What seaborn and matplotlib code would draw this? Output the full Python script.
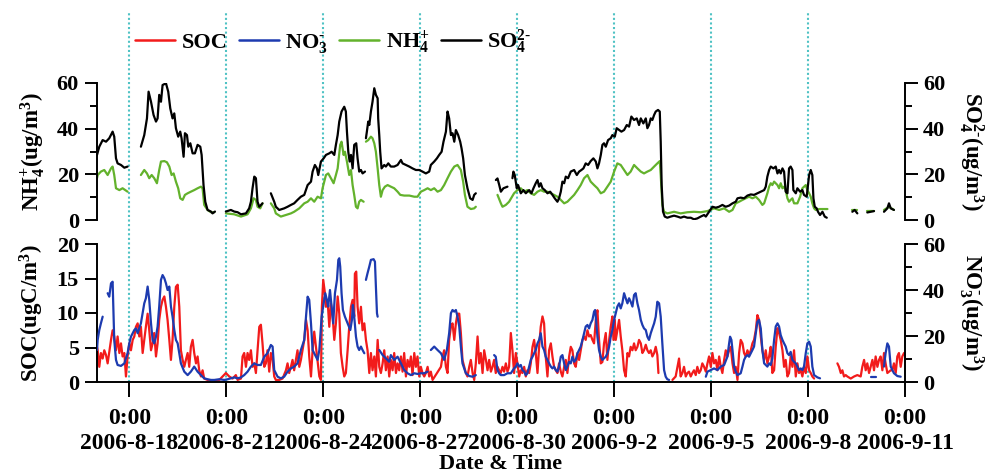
import numpy as np
import pandas as pd
import matplotlib
matplotlib.use("Agg")
import matplotlib.pyplot as plt
from matplotlib.lines import Line2D
from matplotlib.ticker import MultipleLocator
import seaborn as sns

nan = np.nan

# record window and the 0:00 tick dates
start = "2006-08-17 00:00"
end = "2006-09-11 00:00"
tick_dates = ["2006-08-18", "2006-08-21", "2006-08-24", "2006-08-27", "2006-08-30",
              "2006-09-02", "2006-09-05", "2006-09-08", "2006-09-11"]

legend_labels = ["SOC", r"NO$_3^{‐}$", r"NH$_4^{+}$", r"SO$_4^{2‐}$"]
legend_colors = ["#f21b1b", "#1d3bb0", "#63b22c", "#000000"]

# hours since start; nan marks a break in the record
so4_hours = [
    0.0, 1.7, 4.2, 6.7, 9.1, 11.6, 12.8, 14.1, 15.3, 17.8, 20.3, 22.7, nan,
    32.6, 35.1, 37.1, 38.3, 40.1, 42.0, 43.8, 45.0, 46.2, 47.5, 48.7, 51.2, 52.9, 54.4, 56.1, 57.4, 58.6, 60.3,
    61.8, 62.8, 64.3, 65.3, 66.8, 67.8, 69.3, 71.0, 72.7, 74.7, 76.7, 77.7, 79.1, 80.4, 82.1, 84.6, 85.8, 87.6, nan,
    95.7, 99.4, 101.9, 104.4, 106.9, 110.6, 113.0, 114.3, 115.5, 116.8, 118.0, 119.2, 120.5, 122.9, nan,
    129.1, 131.6, 132.8, 135.3, 139.0, 141.5, 144.0, 146.4, 148.9, 151.4,
    153.9, 156.4, 158.9, 160.1, 161.8, 163.3, 164.3, 166.3, 168.3, 170.0,
    172.5, 174.2, 176.2, 177.4, 178.7, 179.9, 181.6, 183.6, 184.8, 185.6,
    186.6, 187.6, 188.6, 189.8, 191.0, 192.5, 193.5, 194.7, 196.0, 197.2, 199.0, nan,
    199.7, 200.4, 201.4, 202.2, 203.4, 204.6, 205.9, 207.1, 208.4, 208.8,
    209.6, 210.3, 211.3, 213.3, 214.5, 216.3, 218.2, 220.7, 223.2, 225.7,
    226.9, 229.4, 231.9, 234.3, 236.8, 239.3, 241.7, 244.2, 246.7, 247.9,
    250.4, 252.4, 254.1, 255.9, 257.3, 259.1, 260.3, 261.5, 262.8, 264.0,
    265.3, 266.5, 268.2, 269.7, 270.7, 271.9, 273.2, 275.1, 277.1, 278.9, 280.1, 281.3, nan,
    296.2, 297.4, 298.7, 299.9, 301.8, 304.8, nan,
    308.5, 309.2, 310.2, 311.7, 312.7, 314.7, 316.7, 318.4, 319.6, 320.9,
    322.6, 324.1, 325.8, 327.1, 328.3, 329.5, 330.8, 332.5, 334.5, 336.5,
    338.2, 339.9, 341.9, 343.1, 344.4, 345.6, 346.9, 348.1, 349.8, 351.8,
    354.3, 356.3, 358.0, 359.7, 361.2, 362.9, 364.7, 366.6, 368.6, 370.4,
    371.6, 372.8, 374.1, 375.3, 376.5, 377.8, 379.5, 381.5, 382.7, 384.5,
    385.9, 387.7, 389.4, 391.4, 393.4, 395.1, 396.8, 398.8, 400.8, 402.5,
    403.8, 405.7, 407.5, 408.7, 409.9, 411.2, 412.4, 413.7, 414.9, 416.6,
    417.9, 418.6, 419.3, 420.3, 421.6, 423.5, 426.0, 428.5, 431.0, 433.4,
    435.9, 438.4, 440.9, 443.3, 445.8, 448.3, 450.8, 452.1, 454.5, 457.0,
    459.5, 461.9, 464.4, 466.9, 469.4, 471.9, 474.3, 475.6, 478.0, 480.5,
    483.0, 485.5, 487.9, 490.4, 492.9, 495.4, 496.6, 497.8, 499.1, 500.3,
    502.3, 504.0, 505.3, 506.5, 507.7, 509.0, 510.2, 511.4, 512.7, 513.9,
    515.1, 516.4, 517.1, 518.9, 520.1, 522.1, 523.8, 525.0, 527.0, 528.8,
    530.0, 531.2, 532.0, 533.0, 534.4, 535.4, 536.9, 538.7, 540.4, 541.9, nan,
    560.9, 562.6, 564.6, nan,
    572.0, 577.0, nan,
    584.4, 586.9, 588.1, 589.4, 591.8,
]
so4_values = [
    28.5, 32.1, 35.0, 34.3, 35.8, 38.7, 36.5, 27.0, 24.8, 24.1, 22.9, 23.4, nan,
    32.1, 37.2, 44.5, 56.2, 51.8, 46.0, 43.1, 44.5, 54.8, 51.8, 59.1, 59.9, 56.2, 48.9, 44.5, 46.7, 40.2, 36.5,
    38.7, 35.8, 27.7, 38.0, 37.2, 32.1, 33.6, 29.2, 29.2, 32.9, 32.1, 28.5, 15.3, 8.0, 4.4, 3.7, 2.9, 3.7, nan,
    3.7, 4.4, 3.7, 3.4, 2.5, 2.9, 5.1, 8.0, 13.9, 19.0, 18.3, 8.0, 5.8, 7.3, nan,
    11.7, 8.0, 5.8, 4.4, 5.1, 5.8, 6.6, 7.3, 8.8, 10.2,
    11.0, 15.3, 16.8, 21.2, 24.1, 22.6, 19.7, 25.6, 27.0, 28.5,
    29.2, 29.9, 28.5, 32.9, 37.2, 43.1, 47.5, 49.6, 47.5, 38.7,
    29.9, 25.6, 28.5, 22.6, 32.9, 33.6, 27.0, 21.2, 21.9, 20.4, 21.2, nan,
    35.8, 38.7, 43.1, 41.6, 47.5, 51.8, 57.7, 54.8, 53.3, 44.5,
    37.2, 29.9, 22.6, 24.1, 23.4, 24.8, 23.4, 23.4, 24.1, 26.3,
    24.8, 24.1, 23.4, 22.6, 21.9, 21.9, 21.2, 20.4, 21.2, 24.1,
    25.6, 27.0, 28.5, 29.9, 34.3, 38.7, 47.5, 44.5, 37.2, 38.0,
    34.3, 39.4, 37.2, 34.3, 31.4, 27.0, 19.7, 13.9, 9.5, 8.8, 11.0, 11.7, nan,
    17.5, 18.2, 15.3, 12.4, 13.9, 14.6, nan,
    18.3, 21.2, 19.7, 13.9, 15.3, 11.7, 13.1, 11.7, 12.4, 13.1,
    11.7, 13.9, 16.1, 17.5, 14.6, 16.1, 13.9, 13.1, 11.7, 12.4,
    11.0, 9.5, 8.0, 9.5, 12.4, 16.8, 16.1, 19.0, 18.3, 21.2,
    21.9, 19.7, 21.2, 21.9, 22.6, 24.8, 24.1, 25.8, 27.0, 25.6,
    22.6, 24.8, 28.5, 32.9, 33.6, 32.1, 35.0, 35.8, 37.2, 36.5,
    40.2, 39.4, 38.7, 39.4, 41.6, 40.9, 45.3, 43.8, 44.5, 41.6,
    44.5, 42.3, 44.5, 40.2, 41.6, 44.5, 43.8, 46.0, 47.5, 48.2,
    47.5, 34.3, 15.3, 3.7, 1.5, 1.0, 1.5, 1.9, 1.5, 1.0,
    1.5, 1.0, 1.0, 0.3, 0.7, 1.5, 2.2, 1.5, 3.6, 5.8,
    5.4, 5.8, 6.6, 5.8, 6.3, 7.3, 8.0, 9.5, 9.8, 9.5,
    10.7, 11.2, 11.0, 11.7, 12.4, 13.1, 14.6, 19.0, 21.9, 23.4,
    22.6, 23.4, 20.4, 21.9, 20.4, 22.6, 21.2, 12.4, 11.7, 22.6,
    23.4, 21.9, 13.1, 11.7, 13.9, 12.4, 13.1, 11.0, 10.2, 19.7,
    21.9, 19.7, 9.5, 5.8, 5.1, 3.6, 2.2, 3.6, 1.5, 1.0, nan,
    3.6, 4.4, 2.9, nan,
    3.3, 3.9, nan,
    3.6, 5.1, 7.3, 5.1, 4.4,
]

nh4_hours = [
    0.0, 0.5, 2.9, 5.4, 7.9, 10.4, 11.6, 12.8, 14.1, 16.6, 19.0, 22.7, nan,
    32.6, 35.1, 37.1, 38.8, 40.6, 42.5, 44.5, 46.2, 47.5, 50.0,
    51.9, 53.7, 55.4, 56.9, 58.6, 60.3, 61.8, 63.6, 65.3, 67.3,
    69.7, 72.2, 74.7, 77.2, 78.4, 79.6, 82.1, 84.6, 87.1, nan,
    95.7, 101.9, 106.9, 111.8, 114.3, 116.3, 118.0, 119.2, 121.2, 122.9, nan,
    129.1, 131.6, 132.8, 136.5, 140.3, 144.0, 146.4, 150.2, 153.9, 156.4,
    158.9, 161.3, 163.8, 166.3, 167.5, 170.0, 171.7, 173.7, 175.7, 177.4,
    178.7, 180.6, 181.6, 183.1, 184.1, 185.6, 187.3, 188.6, 189.8, 191.0,
    192.3, 193.5, 194.7, 196.0, 198.0, nan,
    199.7, 201.4, 203.4, 204.6, 205.9, 207.1, 208.4, 209.6, 210.8, 212.1,
    213.8, 215.8, 218.2, 220.7, 223.2, 225.2, 228.1, 231.9, 235.6, 238.0,
    240.5, 243.0, 245.5, 247.9, 250.4, 252.9, 255.4, 257.8, 260.3, 262.8,
    265.3, 267.7, 270.2, 271.9, 273.2, 275.1, 277.6, 280.1, 281.3, nan,
    297.4, 299.9, 301.1, 303.6, 306.0, 309.7, 312.2, 314.7, 317.2, 319.6,
    322.1, 324.6, 327.1, 329.5, 332.0, 334.5, 337.0, 339.4, 341.9, 344.4,
    346.9, 349.3, 351.8, 354.3, 356.8, 359.2, 361.7, 364.2, 366.6, 369.1,
    371.6, 374.1, 376.5, 379.0, 381.5, 384.0, 386.4, 388.9, 391.4, 393.9,
    396.3, 398.8, 401.3, 403.8, 406.2, 408.7, 411.2, 413.7, 416.1, 417.9,
    418.6, 419.8, 421.1, 423.5, 428.5, 433.4, 438.4, 443.3, 448.3, 453.3,
    458.2, 462.0, 465.7, 469.4, 471.9, 474.3, 476.8, 479.3, 481.7, 484.2,
    486.7, 489.2, 491.6, 494.1, 495.4, 496.6, 497.8, 499.1, 500.3, 501.5,
    502.8, 505.3, 506.5, 507.7, 509.0, 510.2, 511.4, 512.7, 513.9, 515.1,
    516.4, 517.6, 520.1, 522.1, 523.8, 526.3, 527.5, 528.8, 530.0, 531.2,
    532.5, 533.7, 536.2, 538.7, 542.4, nan,
    560.9, 564.6, nan,
    572.0, 577.0, nan,
    584.4, 588.1, 591.8,
]
nh4_values = [
    18.3, 19.7, 21.2, 21.9, 19.7, 22.6, 23.4, 19.7, 13.9, 13.1, 13.9, 12.4, nan,
    19.7, 21.9, 20.4, 18.3, 19.7, 18.3, 16.1, 21.9, 25.6, 25.8,
    25.3, 23.4, 19.7, 20.4, 16.8, 13.9, 9.5, 8.8, 11.0, 11.7,
    12.4, 13.1, 13.9, 14.6, 13.9, 6.6, 4.4, 3.4, 3.4, nan,
    2.9, 2.5, 1.5, 2.5, 5.1, 9.5, 8.8, 5.8, 5.1, 7.3, nan,
    7.3, 5.1, 2.9, 1.5, 2.2, 2.9, 3.6, 5.1, 7.3, 8.0,
    9.5, 8.0, 10.2, 9.5, 13.9, 19.7, 20.4, 18.3, 16.1, 19.7,
    22.6, 32.9, 34.3, 28.5, 29.9, 25.6, 19.7, 21.9, 15.3, 11.0,
    5.8, 5.1, 8.0, 8.8, 8.0, nan,
    34.3, 35.0, 36.5, 35.8, 33.6, 29.9, 22.6, 15.3, 10.2, 13.1,
    14.6, 15.3, 14.6, 13.9, 12.4, 11.0, 10.7, 10.7, 10.2, 10.2,
    12.4, 13.1, 13.9, 13.1, 13.9, 12.4, 13.1, 15.3, 18.3, 21.2,
    23.4, 24.1, 21.9, 16.8, 11.0, 5.8, 4.8, 5.1, 5.8, nan,
    11.0, 7.3, 5.8, 6.6, 8.0, 11.7, 13.1, 13.9, 12.4, 13.1,
    11.7, 11.0, 12.4, 13.1, 12.4, 12.4, 11.7, 11.0, 10.2, 8.8,
    7.3, 8.0, 9.5, 11.0, 13.1, 15.3, 18.3, 19.7, 16.8, 15.3,
    13.9, 11.7, 12.4, 14.6, 16.8, 21.2, 24.8, 24.1, 21.9, 19.7,
    21.2, 24.1, 22.6, 21.2, 20.4, 21.2, 21.9, 23.4, 24.8, 25.8,
    19.7, 6.6, 3.6, 2.9, 3.6, 2.9, 3.4, 3.6, 3.4, 3.9,
    5.1, 4.4, 5.1, 3.6, 4.4, 7.3, 8.0, 8.8, 9.5, 10.2,
    9.5, 10.2, 8.8, 6.6, 7.3, 9.5, 11.7, 14.6, 16.1, 15.3,
    16.8, 15.3, 13.9, 16.1, 13.9, 14.6, 13.1, 9.5, 8.0, 8.8,
    9.5, 7.3, 7.3, 10.2, 13.9, 15.3, 13.1, 11.7, 10.2, 7.3,
    5.1, 4.4, 4.8, 4.8, 4.8, nan,
    4.4, 4.4, nan,
    3.9, 3.9, nan,
    4.4, 5.8, 4.4,
]

no3_hours = [
    0.0, 0.5, 1.7, 2.9, 4.2, nan,
    7.9, 9.1, 10.4, 11.6, 12.8, 14.1, 15.3, 17.8, 20.3, 22.7,
    24.0, 25.2, 27.7, 28.9, 30.2, 32.6, 35.1, 36.3, 37.6, 38.8,
    40.1, 41.3, 42.5, 43.8, 45.0, 46.2, 47.5, 48.7, 50.0, 51.2,
    52.4, 53.7, 54.9, 56.1, 57.4, 58.6, 59.9, 61.1, 62.3, 64.8,
    67.3, 69.7, 72.2, 74.7, 77.2, 79.6, 82.1, 84.6, 87.1, 90.8,
    94.5, 97.0, 99.4, 101.9, 104.4, 106.9, 109.3, 111.8, 114.3, 116.8,
    119.2, 121.7, 124.2, 126.6, 129.1, 130.4, 131.6, 134.1, 136.5, 139.0,
    141.5, 144.0, 146.4, 148.9, 151.4, 153.9, 155.2, 156.4, 157.6, 158.9,
    160.1, 161.3, 162.6, 163.8, 165.1, 165.8, 166.8, 168.3, 169.5, 170.7,
    171.7, 173.0, 174.2, 175.4, 176.7, 178.2, 179.2, 179.9, 180.6, 181.6,
    182.6, 184.1, 186.1, 188.1, 189.3, 190.0, 191.0, 192.3, 193.5, 194.7,
    196.0, 197.2, 198.5, nan,
    199.7, 200.9, 202.2, 203.4, 205.4, 206.4, 207.1, 207.9, 208.4, nan,
    209.6, 212.1, 214.5, 217.0, 218.2, 220.7, 223.2, 225.7, 228.1, 230.6,
    233.1, 235.6, 238.0, 240.5, 243.0, 245.5, nan,
    247.9, 250.4, 252.9, 255.4, 257.8, 259.8, 261.5, 262.8, 264.0, 265.3,
    266.5, 267.7, 269.0, 270.2, 271.4, 273.9, 276.4, 278.9, 281.3, nan,
    294.9, 296.1, 297.4, 298.6, 299.8, 302.3, 304.8, 307.3, 309.7, 311.0,
    312.2, 313.5, 314.7, 315.9, 317.2, 318.4, 319.6, 320.9, 322.1, 323.4,
    324.6, 325.8, 327.1, 328.3, 329.5, 330.8, 332.0, 333.2, 334.5, 335.7,
    337.0, 338.2, 339.4, 340.7, 341.9, 343.1, 344.4, 345.6, 346.9, 348.1,
    349.3, 350.6, 351.8, 353.0, 354.3, 355.5, 356.8, 358.0, 359.2, 360.5,
    361.7, 362.9, 364.2, 365.4, 366.6, 367.9, 369.1, 369.9, 370.6, 371.6,
    372.8, 374.1, 375.3, 376.5, 377.8, 379.0, 380.3, 381.5, 382.7, 384.0,
    385.2, 386.4, 387.7, 388.9, 390.1, 391.4, 392.6, 393.9, 395.1, 396.3,
    397.6, 398.8, 400.0, 401.3, 402.5, 403.8, 405.0, 406.2, 407.5, 408.7,
    409.9, 411.2, 412.4, 413.7, 414.9, 416.1, 417.4, 418.6, 419.8, 421.1,
    422.3, 423.5, 424.8, nan,
    452.1, 453.3, 455.8, 458.2, 460.7, 463.2, 465.7, 468.1, 469.4, 470.1,
    471.1, 471.9, 473.1, 474.3, 475.6, 478.0, 479.3, 480.5, 481.7, 483.0,
    484.2, 485.5, 486.7, 487.9, 489.2, 490.4, 491.6, 492.9, 494.1, 495.4,
    496.6, 497.8, 499.1, 500.3, 501.5, 502.8, 504.0, 505.3, 506.5, 507.7,
    509.0, 510.2, 511.4, 512.7, 513.9, 515.1, 516.4, 517.6, 518.9, 520.1,
    521.3, 522.6, 523.8, 525.0, 526.3, 527.5, 528.8, 530.0, 531.2, 532.5,
    535.0, 536.9, nan,
    574.5, 578.2, nan,
    584.4, 585.6, 586.9, 588.1, 589.4, 590.6, 591.8, 594.3, 596.8,
]
no3_values = [
    13.9, 18.3, 22.6, 25.5, 28.4, nan,
    38.6, 37.1, 42.9, 43.6, 18.3, 9.6, 7.4, 7.0, 8.1, 12.5,
    16.8, 19.7, 22.6, 23.3, 21.2, 25.5, 34.2, 36.4, 41.5, 35.7,
    25.5, 18.3, 16.8, 19.7, 24.1, 32.8, 44.4, 46.5, 45.1, 42.9,
    40.0, 41.5, 32.8, 28.4, 22.6, 18.3, 16.8, 12.5, 8.1, 4.5,
    3.0, 4.5, 6.7, 4.5, 3.0, 1.6, 1.2, 0.9, 0.9, 1.2,
    0.9, 1.2, 1.6, 2.0, 1.6, 2.0, 3.0, 4.5, 6.7, 8.1,
    7.4, 7.4, 11.0, 12.5, 16.1, 15.4, 5.2, 2.3, 1.6, 2.3,
    4.5, 5.9, 6.7, 8.1, 13.9, 18.3, 28.4, 37.1, 35.7, 25.5,
    13.9, 12.5, 11.0, 9.6, 13.9, 19.7, 28.4, 34.2, 38.6, 35.7,
    32.8, 40.0, 32.8, 25.5, 38.6, 44.4, 53.1, 53.8, 50.2, 38.6,
    31.3, 28.4, 25.5, 22.6, 27.0, 33.5, 28.4, 19.7, 15.4, 13.9,
    15.4, 13.9, 12.5, nan,
    44.4, 47.3, 50.2, 53.1, 53.4, 52.3, 41.5, 29.9, 28.4, nan,
    13.9, 11.7, 10.3, 8.8, 11.7, 9.6, 11.0, 8.1, 5.2, 3.8,
    3.0, 3.8, 3.5, 3.8, 3.8, 4.5, nan,
    13.9, 15.4, 13.9, 12.5, 9.6, 13.9, 21.2, 29.9, 31.3, 30.6,
    31.3, 28.4, 24.1, 15.4, 8.1, 3.8, 2.6, 2.3, 3.0, nan,
    11.7, 11.0, 5.2, 3.8, 3.0, 3.0, 3.8, 3.8, 5.9, 6.7,
    8.1, 6.7, 7.4, 5.2, 4.5, 3.0, 3.8, 6.7, 9.6, 11.0,
    12.5, 13.9, 16.8, 18.3, 21.2, 15.4, 13.9, 11.0, 9.6, 8.1,
    6.7, 5.9, 6.7, 5.2, 4.5, 6.7, 11.0, 11.7, 8.1, 5.2,
    6.7, 8.8, 8.1, 11.0, 8.8, 9.6, 12.5, 13.9, 15.4, 18.3,
    21.2, 24.1, 24.8, 23.3, 25.5, 27.0, 30.6, 31.3, 27.0, 19.7,
    13.9, 11.0, 9.6, 10.3, 11.0, 12.5, 15.4, 19.7, 22.6, 27.0,
    29.9, 32.8, 34.2, 32.0, 34.2, 38.6, 36.4, 34.2, 36.4, 34.9,
    32.8, 37.8, 38.6, 34.2, 31.3, 27.0, 24.8, 23.3, 22.6, 19.7,
    18.3, 21.2, 23.3, 25.5, 28.4, 34.9, 34.2, 28.4, 16.8, 5.2,
    2.3, 1.2, 0.9, nan,
    2.3, 4.5, 5.2, 5.9, 5.2, 6.7, 7.4, 11.0, 16.8, 19.7,
    18.3, 13.9, 6.7, 4.5, 3.0, 3.8, 6.7, 9.6, 11.0, 11.7,
    11.0, 12.5, 13.9, 15.4, 21.2, 26.2, 27.0, 23.3, 13.9, 8.1,
    7.4, 6.7, 8.1, 7.4, 10.3, 18.3, 24.1, 25.5, 24.1, 20.4,
    18.3, 16.8, 15.4, 12.5, 11.7, 13.1, 9.6, 8.8, 8.1, 6.7,
    5.2, 5.9, 5.2, 6.7, 12.5, 16.8, 17.5, 15.4, 6.7, 3.0,
    2.0, 1.6, nan,
    2.3, 2.3, nan,
    6.7, 12.5, 16.8, 15.4, 6.7, 5.2, 3.8, 2.6, 2.3,
]

soc_hours = [
    0.0, 0.5, 1.7, 2.9, 4.2, 5.4, 6.7, 7.9, 10.4, 11.6,
    12.8, 14.1, 15.3, 16.6, 17.8, 19.0, 20.3, 21.5, 22.7, 24.0,
    25.2, 26.5, 27.7, 28.9, 30.2, 31.4, 32.6, 33.9, 35.1, 36.3,
    37.6, 38.8, 40.1, 41.3, 42.5, 43.8, 45.0, 46.2, 47.5, 48.7,
    50.0, 51.2, 52.4, 53.7, 54.9, 56.1, 57.4, 58.6, 59.9, 61.1,
    62.3, 63.6, 64.8, 66.0, 67.3, 68.5, 69.7, 71.0, 72.2, 73.5,
    74.7, 75.9, 77.2, 78.4, 79.6, 82.1, 87.1, 90.8, 93.2, 95.7,
    98.2, 100.7, 103.1, 104.4, 106.9, 108.1, 109.3, 110.6, 111.8, 113.0,
    114.3, 115.5, 116.8, 118.0, 119.2, 120.5, 121.7, 122.9, 124.2, 125.4,
    126.6, 127.9, 129.1, 130.4, 131.6, 132.8, 135.3, 137.8, 140.3, 141.5,
    142.7, 144.0, 145.2, 146.4, 147.7, 148.9, 150.2, 151.4, 152.6, 153.9,
    155.2, 156.4, 157.6, 158.9, 160.1, 161.3, 162.6, 163.8, 165.1, 166.3,
    167.0, 168.0, 169.3, 170.0, 171.2, 172.5, 173.7, 175.0, 176.2, 177.4,
    178.7, 179.9, 181.1, 182.4, 183.6, 184.8, 186.1, 187.3, 188.6, 189.8,
    191.0, 191.5, 192.5, 193.5, 194.7, 196.0, 197.2, 198.5, 199.7, 200.9,
    202.2, 203.4, 204.6, 205.9, 207.1, 208.4, 209.6, 210.8, 212.1, 213.3,
    214.5, 215.8, 217.0, 218.2, 219.5, 220.7, 222.0, 223.2, 224.4, 225.7,
    226.9, 228.1, 229.4, 230.6, 231.9, 233.1, 234.3, 235.6, 236.8, 238.0,
    239.3, 240.5, 241.7, 243.0, 244.2, 245.5, 246.7, 247.9, 249.2,
    255.4, 256.6, 257.8, 259.1, 260.3, 261.5, 262.8, 264.0, 265.3, 266.5,
    267.7, 269.0, 270.2, 271.4, 272.7, 273.9, 275.1, 276.4, 277.6, 278.9,
    280.1, 281.3, 282.6, 283.8, 285.0, 286.3, 287.5, 288.8, 290.0, 291.2,
    292.5, 293.7, 294.9, 296.1, 297.4, 298.6, 299.8, 301.1, 302.3, 303.6,
    304.8, 306.0, 307.3, 308.5, 309.7, 311.0, 312.2, 313.5, 314.7, 315.9,
    317.2, 318.4, 319.6, 320.9, 322.1, 323.4, 324.6, 325.8, 327.1, 328.3,
    329.5, 330.8, 332.0, 333.2, 334.5, 335.7, 337.0, 338.2, 339.4, 340.7,
    341.9, 343.1, 344.4, 345.6, 346.9, 348.1, 349.3, 350.6, 351.8, 353.0,
    354.3, 355.5, 356.8, 358.0, 359.2, 360.5, 361.7, 362.9, 364.2, 365.4,
    366.6, 367.9, 369.1, 370.4, 371.6, 372.8, 374.1, 375.3, 376.5, 377.8,
    379.0, 380.3, 381.5, 382.7, 383.5, 384.5, 385.2, 386.4, 387.7, 388.9,
    390.1, 391.4, 392.6, 393.9, 395.1, 396.3, 397.6, 398.8, 400.0, 401.3,
    402.5, 403.8, 405.0, 406.2, 407.5, 408.7, 409.9, 411.2, 412.4, 413.7,
    414.9, 416.1, 416.9, nan,
    427.3, 429.7, 432.2, 433.4, 434.7, 435.9, 437.2, 438.4, 439.6, 440.9,
    442.1, 443.3, 444.6, 445.8, 447.1, 448.3, 449.5, 450.8, 452.1, 453.3,
    454.5, 455.8, 457.0, 458.2, 459.5, 460.7, 462.0, 463.2, 464.4, 465.7,
    466.9, 468.1, 469.4, 470.6, 471.9, 473.1, 474.3, 475.6, 476.8, 478.0,
    479.3, 480.5, 481.7, 483.0, 484.2, 485.5, 486.7, 487.9, 489.2, 490.4,
    491.6, 492.9, 494.1, 495.4, 496.6, 497.8, 499.1, 500.3, 501.5, 502.8,
    504.0, 505.3, 506.5, 507.7, 509.0, 510.2, 511.4, 512.7, 513.9, 515.1,
    516.4, 517.6, 518.9, 520.1, 521.3, 522.6, 523.8, 525.0, 526.3, 527.5,
    528.8, 530.0, 531.2, 532.5, nan,
    549.8, 551.0, 552.3, 553.5, 554.7, 556.0, 557.2, 559.7, 562.2, 564.6,
    567.1, 568.3, 569.6, 570.8, 572.0, 573.3, 574.5, 575.8, 577.0, 578.2,
    579.5, 580.7, 581.9, 583.2, 584.4, 585.6, 586.9, 589.4, 590.6, 591.8,
    593.1, 594.3, 595.5, 596.8, 598.0, 599.3,
]
soc_values = [
    5.1, 4.6, 2.2, 4.2, 3.4, 4.6, 3.9, 2.7, 6.1, 7.5,
    6.6, 4.6, 6.6, 4.2, 5.6, 3.7, 4.2, 0.8, 3.7, 5.6,
    4.6, 6.1, 6.6, 8.0, 8.5, 6.6, 8.0, 4.2, 6.1, 8.0,
    9.9, 7.5, 4.6, 5.6, 7.1, 3.7, 5.6, 9.0, 10.9, 11.9,
    12.4, 10.9, 9.0, 6.1, 3.2, 6.1, 10.9, 13.8, 14.1, 10.9,
    4.6, 3.2, 2.2, 3.2, 4.2, 2.2, 5.1, 6.1, 4.2, 2.7,
    3.7, 1.7, 0.8, 1.7, 0.5, 0.3, 0.2, 0.3, 0.8, 1.3,
    0.8, 0.5, 1.0, 0.3, 0.5, 3.7, 4.2, 2.2, 4.2, 3.2,
    4.6, 2.2, 2.7, 1.3, 4.6, 8.0, 8.3, 5.6, 2.2, 2.7,
    4.6, 1.5, 4.2, 3.2, 0.8, 0.3, 0.3, 0.5, 1.7, 2.7,
    1.3, 2.2, 3.2, 1.7, 3.2, 4.6, 2.2, 3.2, 4.6, 6.1,
    9.0, 7.5, 3.7, 0.8, 4.6, 7.3, 5.1, 3.2, 0.8, 0.3,
    10.9, 14.8, 12.8, 10.9, 11.9, 8.0, 11.4, 9.5, 6.1, 8.5,
    12.4, 9.9, 4.2, 2.2, 0.8, 1.3, 4.6, 8.0, 10.9, 11.9,
    9.5, 15.7, 16.0, 10.9, 8.5, 10.9, 7.5, 8.5, 6.1, 4.6,
    1.3, 4.2, 1.7, 3.7, 0.8, 6.1, 2.2, 1.3, 2.7, 4.6,
    1.7, 3.7, 0.8, 3.2, 1.7, 4.2, 1.3, 2.7, 1.7, 3.7,
    1.5, 4.2, 0.8, 3.2, 2.2, 3.7, 1.0, 4.2, 2.2, 3.7,
    0.8, 2.2, 1.3, 0.8, 1.3, 2.2, 0.8, 1.5, 0.3,
    2.2, 3.7, 4.6, 2.2, 1.3, 6.1, 8.0, 8.5, 6.1, 8.5,
    9.9, 9.9, 7.1, 3.2, 2.2, 1.3, 0.8, 2.2, 3.2, 1.3,
    0.3, 2.7, 6.6, 2.7, 4.2, 1.3, 4.6, 3.2, 1.7, 3.2,
    1.5, 2.2, 3.2, 1.3, 2.2, 1.7, 1.3, 2.2, 1.5, 2.7,
    1.5, 2.2, 7.1, 4.6, 1.3, 4.2, 2.7, 0.8, 1.7, 1.3,
    2.2, 0.8, 1.7, 1.3, 2.7, 5.1, 6.1, 4.2, 1.3, 5.1,
    8.0, 9.5, 8.5, 3.7, 0.8, 4.6, 5.6, 3.7, 2.2, 1.7,
    1.3, 2.7, 1.5, 0.8, 2.2, 3.2, 1.3, 3.7, 5.1, 4.6,
    2.7, 2.2, 4.2, 3.2, 4.6, 6.1, 6.6, 6.1, 7.5, 6.6,
    6.8, 6.1, 5.6, 9.0, 10.4, 6.1, 2.7, 2.9, 5.6, 7.1,
    3.2, 6.1, 8.0, 9.5, 6.1, 9.0, 6.1, 7.5, 9.0, 6.6,
    4.6, 1.7, 0.8, 4.2, 3.7, 5.1, 4.6, 5.6, 4.6, 5.1,
    6.1, 5.6, 4.2, 4.6, 5.4, 4.6, 4.2, 4.6, 3.7, 4.2,
    5.1, 3.9, 1.3, nan,
    0.3, 0.8, 3.4, 0.8, 1.3, 2.2, 0.8, 1.3, 1.5, 0.8,
    1.3, 1.7, 1.0, 2.2, 1.3, 1.7, 2.7, 2.2, 1.5, 2.7,
    3.7, 2.2, 4.2, 2.7, 3.2, 1.7, 3.7, 2.2, 1.3, 3.2,
    4.6, 3.7, 4.6, 5.1, 2.7, 1.3, 2.2, 0.3, 4.2, 6.1,
    5.6, 4.2, 3.7, 4.6, 3.9, 4.6, 5.6, 6.1, 7.5, 9.7,
    9.0, 6.6, 4.6, 3.2, 4.6, 2.7, 3.7, 5.1, 1.3, 1.7,
    5.1, 7.8, 7.1, 6.1, 4.6, 2.2, 3.2, 0.8, 1.3, 3.7,
    2.2, 4.6, 0.8, 2.7, 1.3, 1.7, 0.8, 2.2, 1.3, 3.7,
    1.7, 1.3, 0.8, 0.5, nan,
    2.7, 2.2, 1.3, 1.7, 0.8, 1.0, 0.8, 0.5, 0.8, 1.0,
    0.8, 2.2, 3.2, 1.7, 2.7, 1.3, 2.2, 3.2, 1.7, 3.7,
    2.2, 3.2, 3.7, 1.7, 4.2, 2.7, 1.3, 1.7, 1.7, 2.7,
    1.3, 3.7, 4.2, 2.2, 3.7, 4.2,
]

# ---------------------------------------------------------------- style
sns.set_style("ticks")
plt.rcParams.update({
    "font.family": ["Liberation Serif", "DejaVu Serif"],
    "font.weight": "bold",
    "font.size": 16,
    "axes.labelweight": "bold",
    "axes.labelsize": 16.5,
    "axes.labelcolor": "black",
    "text.color": "black",
    "mathtext.fontset": "custom",
    "mathtext.rm": "Liberation Serif:bold",
    "mathtext.it": "Liberation Serif:bold",
    "mathtext.bf": "Liberation Serif:bold",
    "mathtext.default": "rm",
    "axes.linewidth": 1.4,
    "axes.edgecolor": "black",
    "xtick.color": "black",
    "ytick.color": "black",
    "xtick.labelsize": 17,
    "ytick.labelsize": 16,
})

t0 = pd.Timestamp(start)
t1 = pd.Timestamp(end)
ticks = pd.to_datetime(tick_dates)


def to_frame(hours, values):
    h = np.asarray(hours, dtype=float)
    v = np.asarray(values, dtype=float)
    seg = np.cumsum(np.isnan(h))
    ok = ~np.isnan(h)
    return pd.DataFrame({
        "time": t0 + pd.to_timedelta(h[ok], unit="h"),
        "value": v[ok],
        "seg": seg[ok],
    })


W, H = 988, 476
fig = plt.figure(figsize=(W / 100, H / 100), dpi=100)


def box(x0, y_top, x1, y_bot):
    return [x0 / W, 1 - y_bot / H, (x1 - x0) / W, (y_bot - y_top) / H]


# day guides running through both panels and the legend strip
ax_bg = fig.add_axes(box(97, 12, 905, 382))
ax_bg.set_xlim(t0, t1)
ax_bg.set_ylim(0, 1)
for d in ticks[:-1]:
    ax_bg.axvline(d, color="#4fc2c4", lw=1.5, ls=(0, (1, 1.2)))
ax_bg.axis("off")

ax_top = fig.add_axes(box(97, 83, 905, 220))
ax_bot = fig.add_axes(box(97, 244, 905, 382))
for ax in (ax_top, ax_bot):
    ax.set_facecolor("none")
ax_top2 = ax_top.twinx()
ax_bot2 = ax_bot.twinx()

soc_c, no3_c, nh4_c, so4_c = legend_colors
line_kw = dict(x="time", y="value", units="seg", estimator=None, lw=1.6, legend=False)
sns.lineplot(data=to_frame(nh4_hours, nh4_values), color=nh4_c, ax=ax_top, **line_kw)
sns.lineplot(data=to_frame(so4_hours, so4_values), color=so4_c, ax=ax_top2, **line_kw)
sns.lineplot(data=to_frame(soc_hours, soc_values), color=soc_c, ax=ax_bot, **line_kw)
sns.lineplot(data=to_frame(no3_hours, no3_values), color=no3_c, ax=ax_bot2, **line_kw)

for ax in (ax_top, ax_top2, ax_bot, ax_bot2):
    ax.set_xlim(t0, t1)
    ax.set_xlabel("")
    ax.set_ylabel("")

# top panel: NH4+ on the left, SO4 2- on the right
for ax in (ax_top, ax_top2):
    ax.set_ylim(0, 60)
    ax.yaxis.set_major_locator(MultipleLocator(20))
    ax.yaxis.set_minor_locator(MultipleLocator(10))
    ax.tick_params(axis="x", which="both", bottom=False, top=False, labelbottom=False)
    ax.spines["top"].set_visible(False)
    ax.spines["bottom"].set_visible(False)
ax_top.spines["right"].set_visible(False)
ax_top2.spines["left"].set_visible(False)

# bottom panel: SOC on the left, NO3- on the right
ax_bot.set_ylim(0, 20)
ax_bot.yaxis.set_major_locator(MultipleLocator(5))
ax_bot2.set_ylim(0, 60)
ax_bot2.yaxis.set_major_locator(MultipleLocator(20))
ax_bot2.yaxis.set_minor_locator(MultipleLocator(10))
for ax in (ax_bot, ax_bot2):
    ax.spines["top"].set_visible(False)
ax_bot.spines["right"].set_visible(False)
ax_bot2.spines["left"].set_visible(False)
ax_bot2.spines["bottom"].set_visible(False)

for ax in (ax_top, ax_bot):
    ax.tick_params(axis="y", which="major", left=True, right=False, direction="out",
                   length=9, width=1.4, pad=4)
    ax.tick_params(axis="y", which="minor", left=True, right=False, direction="out",
                   length=5, width=1.4)
for ax in (ax_top2, ax_bot2):
    ax.tick_params(axis="y", which="major", left=False, right=True, labelright=True,
                   direction="out", length=9, width=1.4, pad=4)
    ax.tick_params(axis="y", which="minor", left=False, right=True, direction="out",
                   length=5, width=1.4)

ax_bot.set_xticks(ticks)
ax_bot.set_xticklabels([f"0:00\n{d.year}-{d.month}-{d.day}" for d in ticks])
ax_bot.xaxis.set_minor_locator(plt.NullLocator())
ax_bot.tick_params(axis="x", which="major", bottom=True, direction="out", length=11,
                   width=1.4, pad=8)
for lab in ax_bot.get_xticklabels():
    lab.set_linespacing(1.25)

ax_top.set_ylabel(r"NH$_4^{+}$(ug/m$^3$)")
ax_bot.set_ylabel(r"SOC(ugC/m$^3$)")
ax_top2.set_ylabel(r"SO$_4^{2‐}$(ug/m$^3$)", rotation=270)
ax_bot2.set_ylabel(r"NO$_3^{‐}$(ug/m$^3$)", rotation=270)
for ax, xc in ((ax_top, -0.080), (ax_bot, -0.080), (ax_top2, 1.082), (ax_bot2, 1.082)):
    ax.yaxis.set_label_coords(xc, 0.5)
    ax.yaxis.label.set_va("center")
    ax.yaxis.label.set_ha("center")

ax_bot.set_xlabel("Date & Time", fontsize=16)
ax_bot.xaxis.set_label_coords(0.5, -0.595)
ax_bot.xaxis.label.set_va("center")

handles = [Line2D([], [], color=c, lw=1.8) for c in legend_colors]
fig.legend(handles, legend_labels, loc="center left", bbox_to_anchor=(135 / W, 1 - 42 / H),
           ncol=4, frameon=False, fontsize=16, handlelength=1.8, handletextpad=0.3,
           columnspacing=0.5, borderpad=0, borderaxespad=0)

fig.savefig("out.png", dpi=100, facecolor="white")
